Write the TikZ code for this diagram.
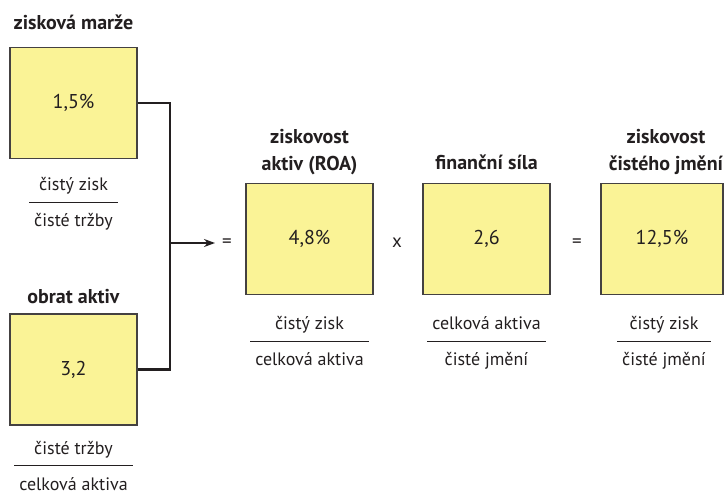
\documentclass[tikz,border=0pt]{standalone}
\usepackage{fontspec}
\setmainfont{PT Sans}
\usetikzlibrary{positioning,arrows.meta}
\definecolor{boxyellow}{RGB}{250,243,150}
\definecolor{ink}{RGB}{35,31,32}

% fraction: numerator over a rule over denominator
\newcommand{\zlomek}[2]{%
  {\renewcommand{\arraystretch}{1.6}\setlength{\tabcolsep}{5pt}%
   \begin{tabular}{c}#1\\\hline #2\end{tabular}}}

\begin{document}
\begin{tikzpicture}[x=1pt,y=-1pt,node distance=6pt,text=ink,
    font=\fontsize{18}{22}\selectfont]
    \tikzstyle{ratio}=[rectangle,draw=ink!85,line width=1.2pt,fill=boxyellow,
        minimum width=127pt,minimum height=111pt,inner sep=0pt,
        font=\fontsize{20}{24}\selectfont]
    \tikzstyle{title}=[font=\fontsize{20}{24}\selectfont\bfseries,align=center,inner sep=2pt]
    \tikzstyle{frac}=[inner sep=0pt]
    \tikzstyle{op}=[inner sep=1pt,font=\fontsize{19}{22}\selectfont]
    \tikzstyle{link}=[draw=ink,line width=2.2pt]

    \useasboundingbox (0,0) rectangle (724,495);
    \clip (0,0) rectangle (724,495);

    % Draw the left-hand boxes
    \node[ratio] (marze) at (73.5,103) {1,5\%};
    \node[ratio] (obrat) at (73.5,369.5) {3,2};

    % Draw the boxes of the equation
    \node[ratio] (roa) at (309.5,239) {4,8\%};
    \node[ratio] (sila) at (486.5,239) {2,6};
    \node[ratio,minimum width=122pt] (roe) at (662,239) {12,5\%};

    % Operators between the boxes
    \node[op] (eq-1) at (227,243) {=};
    \node[op] (krat) at (397,243) {x};
    \node[op] (eq-2) at (577,243) {=};

    % Titles over the boxes
    \node[title,above=15pt of marze] {zisková marže};
    \node[title,above=7pt of obrat] {obrat aktiv};
    \node[title,above=6pt of roa] {ziskovost\\[3pt]aktiv (ROA)};
    \node[title,above=11pt of sila] {finanční síla};
    \node[title,above=6pt of roe,xshift=4pt] {ziskovost\\[3pt]čistého jmění};

    % Fractions under the boxes
    \node[frac,below=7pt of marze] {\zlomek{čistý zisk}{čisté tržby}};
    \node[frac,below=4pt of obrat] {\zlomek{čisté tržby}{celková aktiva}};
    \node[frac,below=10pt of roa] {\zlomek{čistý zisk}{celková aktiva}};
    \node[frac,below=10pt of sila] {\zlomek{celková aktiva}{čisté jmění}};
    \node[frac,below=10pt of roe,xshift=2pt] {\zlomek{čistý zisk}{čisté jmění}};

    % Join the two left boxes and lead into the equation
    \coordinate (spoj) at (170,243);
    \path[link] (marze.east) -- (marze.east -| spoj) -- (obrat.east -| spoj) -- (obrat.east);
    \draw[link,-{Stealth[length=11pt,width=8pt]},shorten >=6pt] (spoj) -- (eq-1);
\end{tikzpicture}
\end{document}
